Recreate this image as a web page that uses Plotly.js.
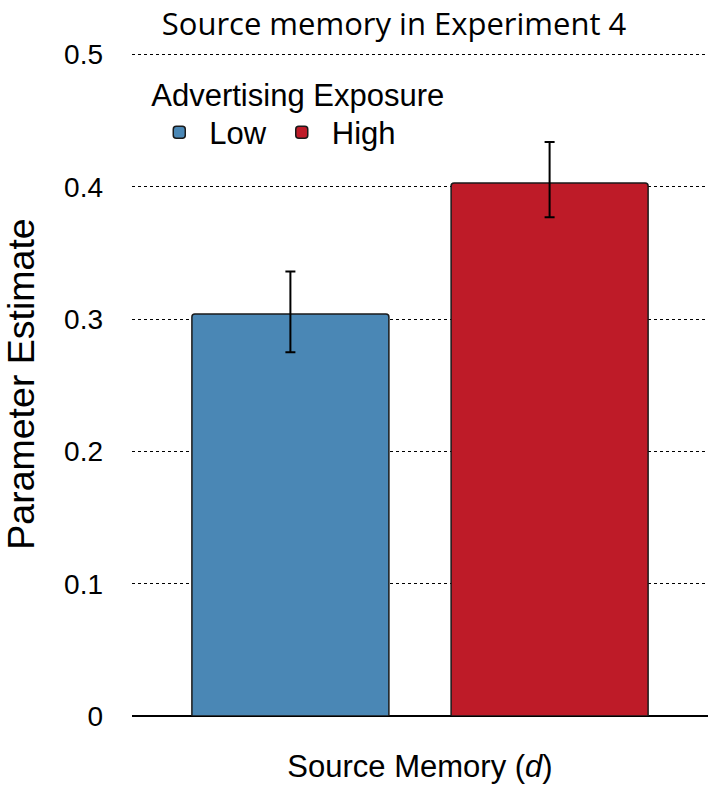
<!DOCTYPE html>
<html>
<head>
<meta charset="utf-8">
<script src="https://cdn.plot.ly/plotly-3.0.1.min.js"></script>
<style>html,body{margin:0;padding:0;background:#fff;overflow:hidden;}#chart{width:708px;height:788px;}</style>
</head>
<body>
<div id="chart"></div>
<script>
// Data
const categories = ['Source Memory'];
const seriesNames = ['Low', 'High'];
const lowValues = [0.304];
const lowErrPlus = [0.032];
const lowErrMinus = [0.029];
const highValues = [0.403];
const highErrPlus = [0.031];
const highErrMinus = [0.026];
const yTickValues = [0, 0.1, 0.2, 0.3, 0.4, 0.5];
const yTickLabels = ['0', '0.1', '0.2', '0.3', '0.4', '0.5'];

const sans = 'Liberation Sans, Arial, sans-serif';

function barTrace(name, vals, plus, minus, color) {
  return {
    type: 'bar', name: name, x: categories, y: vals,
    marker: {color: color, line: {color: '#1a1a1a', width: 1.5}, cornerradius: 3},
    error_y: {type: 'data', array: plus, arrayminus: minus, symmetric: false,
              color: '#000', thickness: 2, width: 5},
    hoverinfo: 'skip'
  };
}

const data = [
  barTrace(seriesNames[0], lowValues, lowErrPlus, lowErrMinus, '#4a87b5'),
  barTrace(seriesNames[1], highValues, highErrPlus, highErrMinus, '#be1b28')
];

const layout = {
  width: 708, height: 788,
  margin: {l: 132, r: 0, t: 52, b: 72, pad: 0},
  paper_bgcolor: '#fff', plot_bgcolor: '#fff',
  barmode: 'group', bargap: 0.1, bargroupgap: 0.24,
  title: {text: 'Source memory in Experiment 4', x: 394 / 708, xanchor: 'center',
          y: 1 - 24 / 788, yanchor: 'middle',
          font: {family: 'Open Sans, sans-serif', size: 31, color: '#000'}},
  xaxis: {showticklabels: false, showgrid: false, zeroline: false, showline: false, ticks: '',
          title: {text: 'Source Memory (<i>d</i>)', standoff: 39,
                  font: {family: sans, size: 31, color: '#000'}}},
  yaxis: {range: [0, 0.502], tickvals: yTickValues, ticktext: yTickLabels,
          tickfont: {family: sans, size: 28, color: '#000'},
          showgrid: true, gridcolor: '#000', gridwidth: 1, griddash: 'dot',
          zeroline: true, zerolinecolor: '#000', zerolinewidth: 2,
          showline: false, ticks: '', ticklabelstandoff: 28,
          title: {text: 'Parameter Estimate', standoff: 18,
                  font: {family: sans, size: 37.5, color: '#000'}}},
  showlegend: true,
  legend: {orientation: 'h', x: 0.03, xanchor: 'left', y: 0.98, yanchor: 'top',
           bgcolor: 'rgba(0,0,0,0)', itemwidth: 50, tracegroupgap: 0,
           font: {family: sans, size: 31, color: '#000'},
           title: {text: 'Advertising Exposure', side: 'top',
                   font: {family: sans, size: 31, color: '#000'}}}
};

Plotly.newPlot('chart', data, layout, {displayModeBar: false, staticPlot: true});
</script>
</body>
</html>
